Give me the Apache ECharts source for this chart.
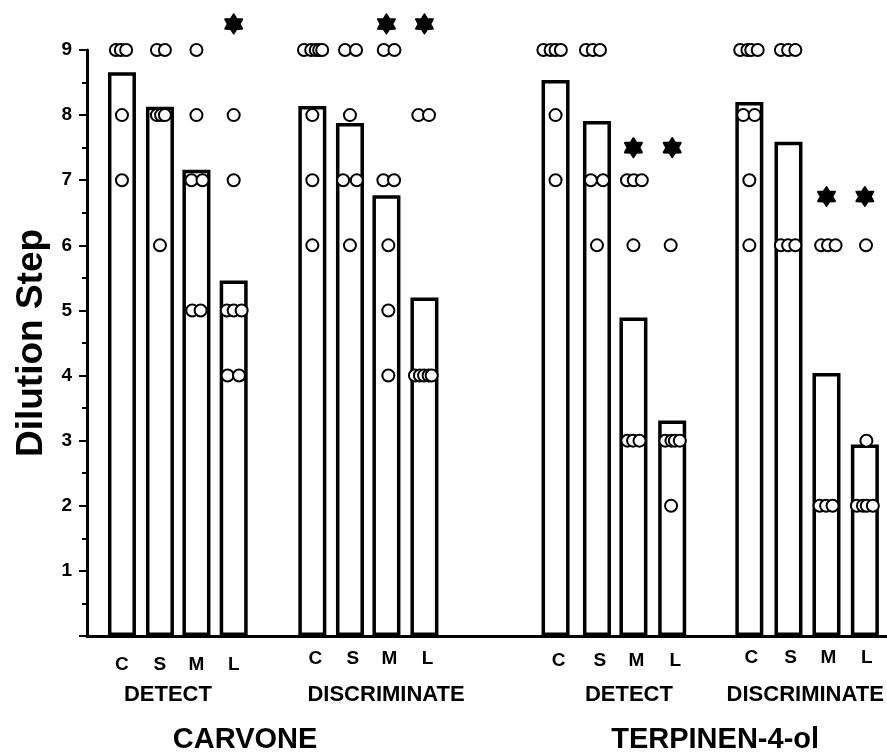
<!DOCTYPE html>
<html>
<head>
    <meta charset="utf-8">
    <title>Dilution Step</title>
    <style>
        html, body { margin: 0; padding: 0; background: #fff; }
        #main { width: 887px; height: 754px; }
    </style>
</head>
<body>
    <div id="main"></div>
    <script src="https://cdn.jsdelivr.net/npm/echarts@6/dist/echarts.min.js"></script>
    <script>
        // bar letters under the x axis
        var barLabels = ['C', 'S', 'M', 'L', 'C', 'S', 'M', 'L', 'C', 'S', 'M', 'L', 'C', 'S', 'M', 'L'];
        // bar positions on the x axis (slot units)
        var barPos = [0.92, 1.92, 2.88, 3.86, 5.93, 6.92, 7.88, 8.88,
                      12.33, 13.42, 14.38, 15.40, 17.43, 18.46, 19.46, 20.47];
        // bar heights (mean dilution step)
        var barMeans = [8.66, 8.13, 7.16, 5.46, 8.14, 7.88, 6.77, 5.20,
                        8.54, 7.91, 4.89, 3.31, 8.20, 7.59, 4.04, 2.94];
        // individual subjects per bar
        var dotValues = [
            [9, 9, 9, 8, 7],
            [9, 9, 8, 8, 8, 6],
            [9, 8, 7, 7, 5, 5],
            [8, 7, 5, 5, 5, 4, 4],
            [9, 9, 9, 9, 9, 8, 7, 6],
            [9, 9, 8, 7, 7, 6],
            [9, 9, 7, 7, 6, 5, 4],
            [8, 8, 4, 4, 4, 4, 4],
            [9, 9, 9, 9, 8, 7],
            [9, 9, 9, 7, 7, 6],
            [7, 7, 7, 6, 3, 3, 3],
            [6, 3, 3, 3, 3, 2],
            [9, 9, 9, 9, 8, 8, 7, 6],
            [9, 9, 9, 6, 6, 6],
            [6, 6, 6, 2, 2, 2],
            [6, 3, 2, 2, 2, 2]
        ];
        // horizontal spread of the dots around the bar centre
        var dotOffsets = [
            [-0.16, -0.03, 0.11, 0, 0],
            [-0.08, 0.13, -0.08, 0.03, 0.13, 0],
            [0, 0, -0.13, 0.16, -0.11, 0.11],
            [0, 0, -0.18, 0, 0.21, -0.16, 0.14],
            [-0.22, -0.03, 0.09, 0.18, 0.26, 0, 0, 0],
            [-0.13, 0.16, 0, -0.18, 0.18, 0],
            [-0.07, 0.21, -0.08, 0.2, 0.05, 0.05, 0.05],
            [-0.16, 0.12, -0.25, -0.12, -0.01, 0.11, 0.19],
            [-0.32, -0.13, 0, 0.14, 0, 0],
            [-0.29, -0.11, 0.08, -0.16, 0.16, 0],
            [-0.17, 0.01, 0.22, 0, -0.16, -0.01, 0.16],
            [-0.04, -0.18, -0.02, 0.07, 0.2, -0.03],
            [-0.24, -0.05, 0.05, 0.22, -0.16, 0.14, 0, 0],
            [-0.2, -0.01, 0.18, -0.2, -0.01, 0.18],
            [-0.14, 0.04, 0.24, -0.18, -0.01, 0.16],
            [0.03, 0.04, -0.21, -0.05, 0.05, 0.21]
        ];
        // significance stars (null = none)
        var starValues = [null, null, null, 9.4, null, null, 9.4, 9.4,
                          null, null, 7.5, 7.5, null, null, 6.75, 6.75];
        var groupNames = ['DETECT', 'DISCRIMINATE', 'DETECT', 'DISCRIMINATE'];
        var groupPos = [2.13, 7.87, 14.26, 18.9];
        var compoundNames = ['CARVONE', 'TERPINEN-4-ol'];
        var compoundPos = [4.16, 16.53];
        var yTicks = [1, 2, 3, 4, 5, 6, 7, 8, 9];

        var font = 'Liberation Sans, Arial, sans-serif';

        // six pointed star symbol
        var starPath = (function() {
            var s = 'path://';
            for (var k = 0; k < 12; k++) {
                var a = (-90 + k * 30) * Math.PI / 180;
                var r = k % 2 ? 0.6 : 1;
                s += (k ? 'L' : 'M') + (50 + 50 * r * Math.cos(a)).toFixed(2) + ',' + (50 + 50 * r * Math.sin(a)).toFixed(2);
            }
            return s + 'Z';
        })();

        var barData = barPos.map(function(p, i) { return [p, barMeans[i]]; });
        var dotData = [];
        dotValues.forEach(function(vals, i) {
            vals.forEach(function(v, j) {
                dotData.push([barPos[i] + dotOffsets[i][j], v]);
            });
        });
        var starData = [];
        starValues.forEach(function(v, i) {
            if (v != null) starData.push([barPos[i], v]);
        });

        function nearestIndex(arr, v) {
            var best = 0;
            for (var i = 1; i < arr.length; i++) {
                if (Math.abs(arr[i] - v) < Math.abs(arr[best] - v)) best = i;
            }
            return best;
        }

        var xMax = 800 / 38;
        var chart = echarts.init(document.getElementById('main'));
        var option = {
            animation: false,
            textStyle: { fontFamily: font, color: '#000' },
            grid: { left: 87, right: 0, top: 50, bottom: 116 },
            xAxis: [{
                type: 'value', min: 0, max: xMax,
                axisLine: { lineStyle: { color: '#000', width: 3 } },
                axisTick: { show: false },
                splitLine: { show: false },
                axisLabel: {
                    customValues: barPos,
                    margin: 12,
                    formatter: function(v) {
                        var i = nearestIndex(barPos, v);
                        return '{g' + Math.floor(i / 4) + '|' + barLabels[i] + '}';
                    },
                    rich: {
                        g0: { fontSize: 19, fontWeight: 'bold', fontFamily: font, padding: [7, 0, 0, 0] },
                        g1: { fontSize: 19, fontWeight: 'bold', fontFamily: font, padding: [1, 0, 0, 6] },
                        g2: { fontSize: 19, fontWeight: 'bold', fontFamily: font, padding: [3, 0, 0, 6] },
                        g3: { fontSize: 19, fontWeight: 'bold', fontFamily: font, padding: [0, 0, 0, 4] }
                    }
                }
            }, {
                type: 'value', min: 0, max: xMax, position: 'bottom', offset: 40,
                axisLine: { show: false },
                axisTick: { show: false },
                splitLine: { show: false },
                axisLabel: {
                    customValues: groupPos,
                    margin: 8,
                    fontSize: 22, fontWeight: 'bold', color: '#000',
                    formatter: function(v) { return groupNames[nearestIndex(groupPos, v)]; }
                }
            }, {
                type: 'value', min: 0, max: xMax, position: 'bottom', offset: 82,
                axisLine: { show: false },
                axisTick: { show: false },
                splitLine: { show: false },
                axisLabel: {
                    customValues: compoundPos,
                    margin: 7,
                    fontSize: 29, fontWeight: 'bold', color: '#000',
                    formatter: function(v) { return compoundNames[nearestIndex(compoundPos, v)]; }
                }
            }],
            yAxis: {
                type: 'value', min: 0, max: 9, interval: 1,
                name: 'Dilution Step',
                nameLocation: 'middle',
                nameGap: 36,
                nameTextStyle: { fontSize: 37, fontWeight: 'bold', color: '#000', fontFamily: font },
                axisLine: { show: true, lineStyle: { color: '#000', width: 3 } },
                axisTick: { show: true, length: 8, lineStyle: { color: '#000', width: 2 } },
                minorTick: { show: true, splitNumber: 2, length: 5, lineStyle: { color: '#000', width: 2 } },
                splitLine: { show: false },
                minorSplitLine: { show: false },
                axisLabel: {
                    margin: 15, fontSize: 19, fontWeight: 'bold', color: '#000',
                    formatter: function(v) { return yTicks.indexOf(v) >= 0 ? String(v) : ''; }
                }
            },
            series: [{
                type: 'bar',
                data: barData,
                barWidth: 28,
                itemStyle: { color: '#fff', borderColor: '#000', borderWidth: 3.5 },
                z: 2
            }, {
                type: 'scatter',
                data: dotData,
                clip: false,
                symbol: 'circle',
                symbolSize: 12,
                itemStyle: { color: '#fff', borderColor: '#000', borderWidth: 2, opacity: 1 },
                z: 3
            }, {
                type: 'scatter',
                data: starData,
                clip: false,
                symbol: starPath,
                symbolSize: [17, 19],
                itemStyle: { color: '#000', borderColor: '#000', borderWidth: 2, borderJoin: 'round', opacity: 1 },
                z: 4
            }]
        };
        chart.setOption(option);
        window.addEventListener('resize', function() {
            chart.resize();
        });
    </script>
</body>
</html>
